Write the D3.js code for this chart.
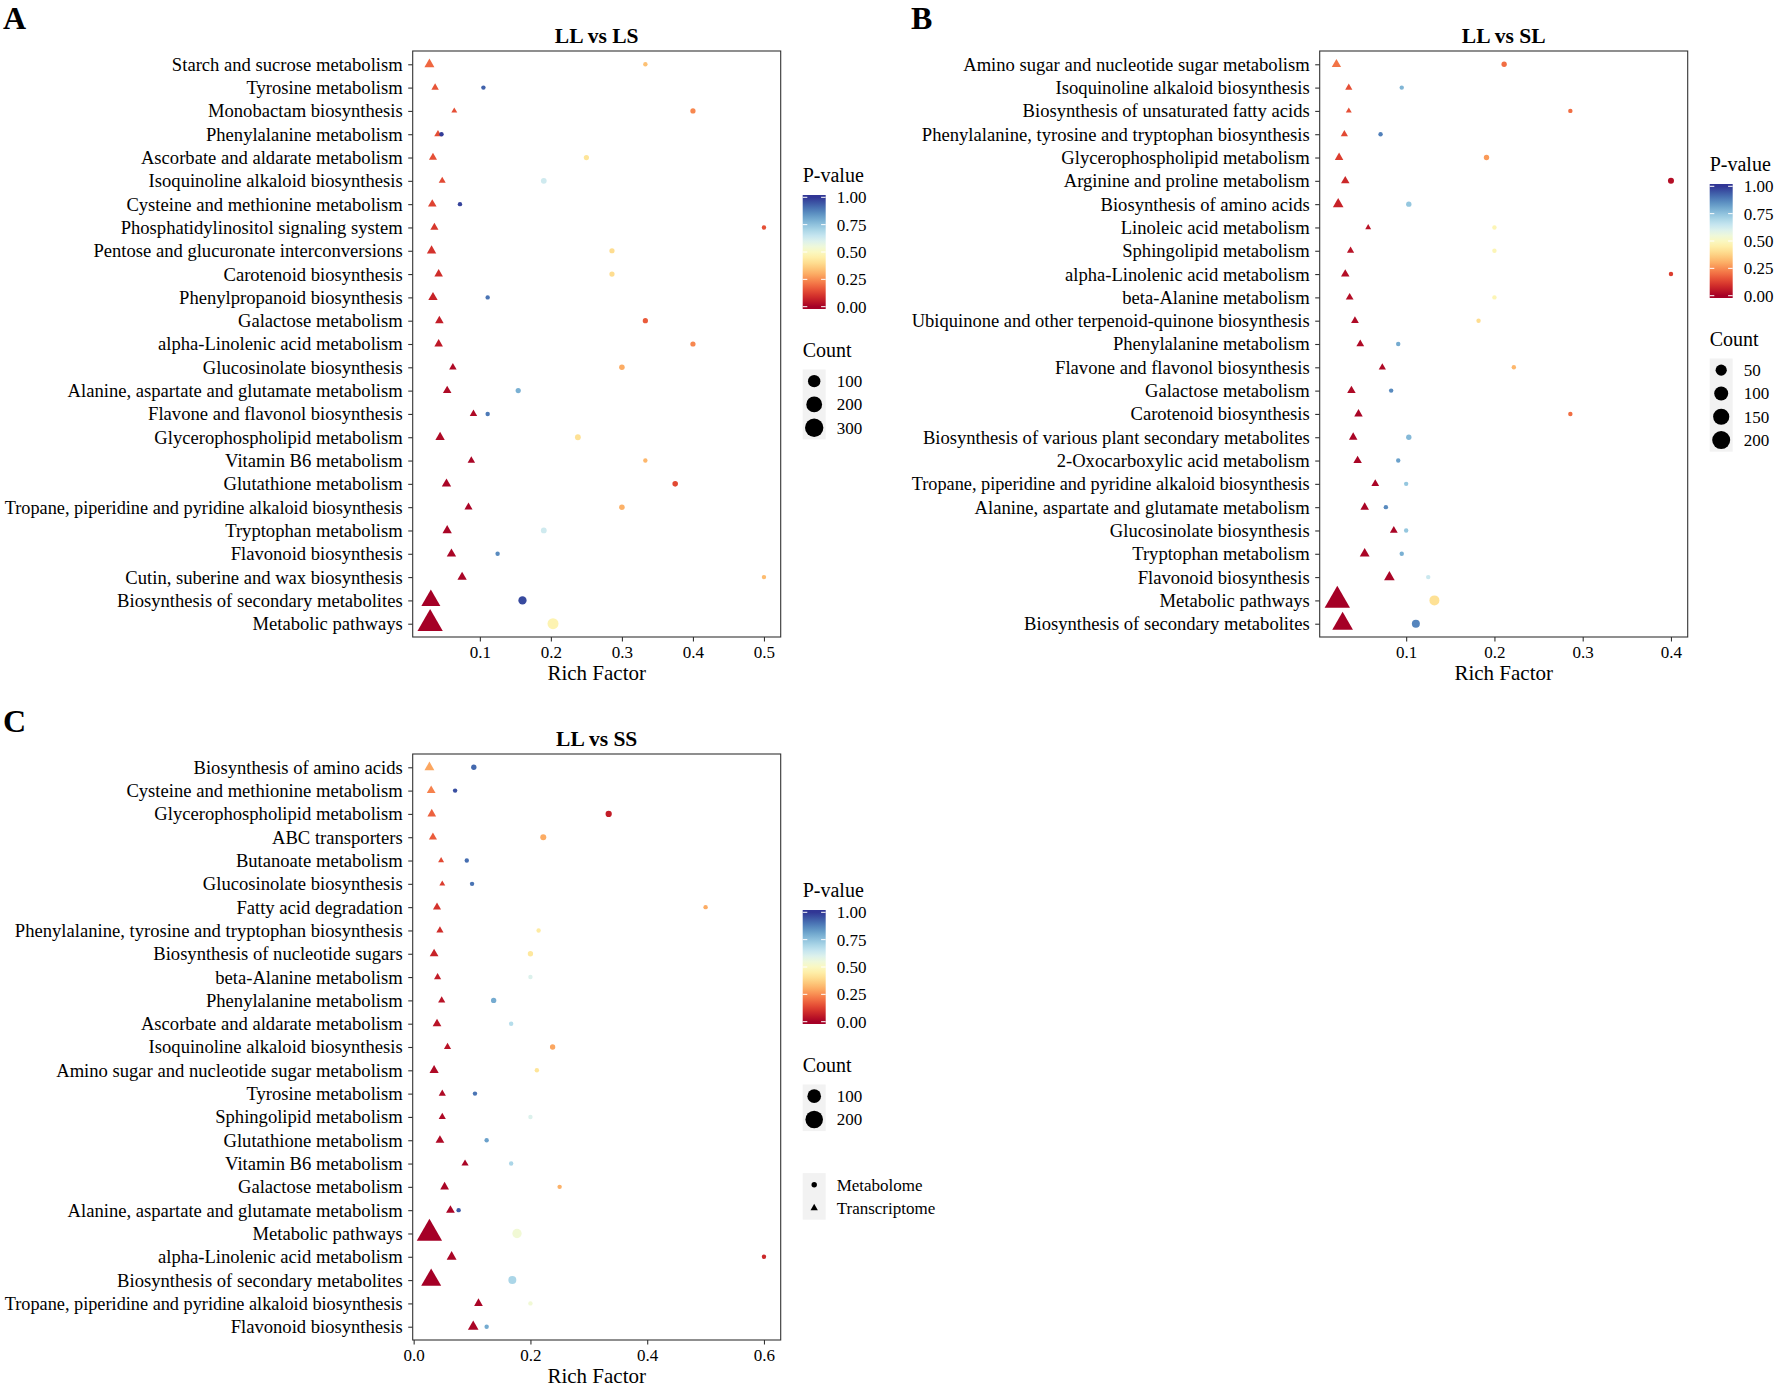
<!DOCTYPE html>
<html>
<head>
<meta charset="utf-8">
<script src="https://cdn.jsdelivr.net/npm/d3@7"></script>
<style>
  body { margin: 0; background: #fff; }
</style>
</head>
<body>
<script>
// Panel A: LL vs LS (rows listed top to bottom)
let pathwaysA = ["Starch and sucrose metabolism", "Tyrosine metabolism", "Monobactam biosynthesis",
  "Phenylalanine metabolism", "Ascorbate and aldarate metabolism", "Isoquinoline alkaloid biosynthesis",
  "Cysteine and methionine metabolism", "Phosphatidylinositol signaling system",
  "Pentose and glucuronate interconversions", "Carotenoid biosynthesis", "Phenylpropanoid biosynthesis",
  "Galactose metabolism", "alpha-Linolenic acid metabolism", "Glucosinolate biosynthesis",
  "Alanine, aspartate and glutamate metabolism", "Flavone and flavonol biosynthesis",
  "Glycerophospholipid metabolism", "Vitamin B6 metabolism", "Glutathione metabolism",
  "Tropane, piperidine and pyridine alkaloid biosynthesis", "Tryptophan metabolism",
  "Flavonoid biosynthesis", "Cutin, suberine and wax biosynthesis",
  "Biosynthesis of secondary metabolites", "Metabolic pathways"];
let richTransA = [0.029, 0.037, 0.064, 0.041, 0.034, 0.047, 0.033, 0.036, 0.032, 0.042, 0.034, 0.043, 0.042,
  0.062, 0.054, 0.091, 0.044, 0.088, 0.053, 0.084, 0.054, 0.060, 0.075, 0.031, 0.030];
let richMetaA = [0.333, 0.105, 0.400, 0.046, 0.250, 0.190, 0.072, 0.500, 0.286, 0.286, 0.111, 0.333, 0.400,
  0.300, 0.154, 0.111, 0.238, 0.333, 0.375, 0.300, 0.190, 0.125, 0.500, 0.160, 0.203];
let pTransA = [0.19, 0.16, 0.15, 0.15, 0.15, 0.14, 0.13, 0.11, 0.10, 0.09, 0.07, 0.06, 0.05,
  0.02, 0.02, 0.02, 0.02, 0.01, 0.01, 0.01, 0.01, 0.01, 0.01, 0.00, 0.00];
let pMetaA = [0.34, 0.93, 0.24, 0.99, 0.42, 0.63, 0.98, 0.15, 0.40, 0.40, 0.90, 0.17, 0.24,
  0.30, 0.79, 0.89, 0.41, 0.32, 0.14, 0.31, 0.63, 0.86, 0.33, 0.97, 0.47];
let countTransA = [15, 3, 1, 3, 5, 2, 7, 5, 11, 7, 11, 7, 7, 3, 7, 3, 11, 3, 11, 5, 11, 11, 11, 146, 320];
let countMetaA = [1, 1, 2, 1, 2, 4, 1, 1, 2, 2, 1, 2, 2, 3, 2, 1, 4, 1, 3, 3, 4, 1, 1, 24, 68];
let ticksA = [0.1, 0.2, 0.3, 0.4, 0.5];
let countBreaksA = [100, 200, 300];

// Panel B: LL vs SL
let pathwaysB = ["Amino sugar and nucleotide sugar metabolism", "Isoquinoline alkaloid biosynthesis",
  "Biosynthesis of unsaturated fatty acids", "Phenylalanine, tyrosine and tryptophan biosynthesis",
  "Glycerophospholipid metabolism", "Arginine and proline metabolism", "Biosynthesis of amino acids",
  "Linoleic acid metabolism", "Sphingolipid metabolism", "alpha-Linolenic acid metabolism",
  "beta-Alanine metabolism", "Ubiquinone and other terpenoid-quinone biosynthesis",
  "Phenylalanine metabolism", "Flavone and flavonol biosynthesis", "Galactose metabolism",
  "Carotenoid biosynthesis", "Biosynthesis of various plant secondary metabolites",
  "2-Oxocarboxylic acid metabolism", "Tropane, piperidine and pyridine alkaloid biosynthesis",
  "Alanine, aspartate and glutamate metabolism", "Glucosinolate biosynthesis", "Tryptophan metabolism",
  "Flavonoid biosynthesis", "Metabolic pathways", "Biosynthesis of secondary metabolites"];
let richTransB = [0.021, 0.035, 0.035, 0.030, 0.024, 0.031, 0.023, 0.057, 0.037, 0.031, 0.036, 0.042, 0.048,
  0.073, 0.038, 0.046, 0.040, 0.045, 0.065, 0.053, 0.086, 0.053, 0.081, 0.022, 0.028];
let richMetaB = [0.211, 0.095, 0.286, 0.071, 0.191, 0.400, 0.103, 0.200, 0.200, 0.400, 0.200, 0.182, 0.091,
  0.222, 0.083, 0.286, 0.103, 0.091, 0.100, 0.077, 0.100, 0.095, 0.125, 0.132, 0.111];
let pTransB = [0.21, 0.15, 0.15, 0.14, 0.12, 0.08, 0.07, 0.04, 0.04, 0.03, 0.03, 0.02, 0.02,
  0.02, 0.02, 0.01, 0.01, 0.01, 0.01, 0.01, 0.01, 0.01, 0.01, 0.00, 0.00];
let pMetaB = [0.20, 0.78, 0.20, 0.88, 0.27, 0.03, 0.74, 0.48, 0.48, 0.12, 0.48, 0.40, 0.80,
  0.32, 0.86, 0.20, 0.77, 0.82, 0.74, 0.86, 0.74, 0.79, 0.64, 0.41, 0.87];
let countTransB = [8, 2, 1, 2, 5, 5, 14, 1, 2, 5, 3, 3, 3, 2, 5, 5, 5, 5, 3, 5, 3, 10, 14, 224, 130];
let countMetaB = [2, 1, 1, 1, 2, 4, 2, 1, 1, 1, 1, 1, 1, 1, 1, 1, 2, 1, 1, 1, 1, 1, 1, 35, 15];
let ticksB = [0.1, 0.2, 0.3, 0.4];
let countBreaksB = [50, 100, 150, 200];

// Panel C: LL vs SS
let pathwaysC = ["Biosynthesis of amino acids", "Cysteine and methionine metabolism",
  "Glycerophospholipid metabolism", "ABC transporters", "Butanoate metabolism", "Glucosinolate biosynthesis",
  "Fatty acid degradation", "Phenylalanine, tyrosine and tryptophan biosynthesis",
  "Biosynthesis of nucleotide sugars", "beta-Alanine metabolism", "Phenylalanine metabolism",
  "Ascorbate and aldarate metabolism", "Isoquinoline alkaloid biosynthesis",
  "Amino sugar and nucleotide sugar metabolism", "Tyrosine metabolism", "Sphingolipid metabolism",
  "Glutathione metabolism", "Vitamin B6 metabolism", "Galactose metabolism",
  "Alanine, aspartate and glutamate metabolism", "Metabolic pathways", "alpha-Linolenic acid metabolism",
  "Biosynthesis of secondary metabolites", "Tropane, piperidine and pyridine alkaloid biosynthesis",
  "Flavonoid biosynthesis"];
let richTransC = [0.027, 0.030, 0.031, 0.033, 0.047, 0.049, 0.040, 0.045, 0.035, 0.041, 0.048, 0.040, 0.058,
  0.035, 0.049, 0.049, 0.045, 0.088, 0.053, 0.063, 0.027, 0.065, 0.030, 0.111, 0.102];
let richMetaC = [0.103, 0.071, 0.334, 0.222, 0.091, 0.100, 0.500, 0.214, 0.200, 0.200, 0.137, 0.167, 0.238,
  0.211, 0.105, 0.200, 0.125, 0.167, 0.250, 0.077, 0.177, 0.600, 0.169, 0.200, 0.125];
let pTransC = [0.29, 0.23, 0.18, 0.17, 0.14, 0.12, 0.10, 0.09, 0.07, 0.06, 0.04, 0.04, 0.04,
  0.02, 0.02, 0.02, 0.02, 0.01, 0.01, 0.01, 0.00, 0.01, 0.00, 0.01, 0.01];
let pMetaC = [0.92, 0.96, 0.06, 0.30, 0.91, 0.90, 0.30, 0.44, 0.43, 0.60, 0.80, 0.68, 0.29,
  0.42, 0.90, 0.60, 0.82, 0.70, 0.31, 0.94, 0.54, 0.08, 0.70, 0.54, 0.80];
let countTransC = [11, 6, 6, 4, 1, 1, 4, 2, 6, 2, 2, 6, 2, 8, 2, 2, 6, 2, 6, 6, 240, 11, 127, 6, 15];
let countMetaC = [2, 1, 5, 4, 1, 1, 1, 1, 2, 1, 2, 1, 2, 1, 1, 1, 1, 1, 1, 1, 29, 1, 16, 1, 1];
let ticksC = [0.0, 0.2, 0.4, 0.6];
let countBreaksC = [100, 200];

let pBreaks = [0, 0.25, 0.5, 0.75, 1];
let shapeLabels = ["Metabolome", "Transcriptome"];

// Stage
let width = 1778;
let height = 1390;
let serif = '"Liberation Serif", "Times New Roman", Times, serif';
let line_color = "#333333";
let key_color = "#f2f2f2";

let svg = d3.select("body")
            .append("svg")
            .attr("width", width)
            .attr("height", height)
            .attr("font-family", serif);

svg.append("rect").attr("width", width).attr("height", height).attr("fill", "#fff");

let plotW = 368;
let plotH = 586;
let maxLabelW = 398;

function drawPanel(cfg) {
    let g = svg.append("g");

    // scales, with ggplot-like 5% expansion on x
    let lo = d3.min(cfg.richT.concat(cfg.richM));
    let hi = d3.max(cfg.richT.concat(cfg.richM));
    let pad = (hi - lo) * 0.05;
    let x = d3.scaleLinear().domain([lo - pad, hi + pad]).range([cfg.left, cfg.left + plotW]);
    let y = d3.scalePoint().domain(cfg.pathways).range([cfg.top, cfg.top + plotH]).padding(0.57);

    let counts = cfg.countT.concat(cfg.countM);
    let cMin = d3.min(counts);
    let cMax = d3.max(counts);
    let rScale = d3.scaleSqrt().domain([0, cMax - cMin]).range([2.2, 9.4]);
    let radius = v => rScale(Math.max(0, v - cMin));

    let color = p => d3.interpolateRdYlBu(Math.max(0, Math.min(1, p)));

    // points: triangles (transcriptome) first, circles (metabolome) over them
    let tri = cfg.pathways.map((d, i) => ({path: d, rich: cfg.richT[i], p: cfg.pT[i], n: cfg.countT[i]}));
    let cir = cfg.pathways.map((d, i) => ({path: d, rich: cfg.richM[i], p: cfg.pM[i], n: cfg.countM[i]}));

    g.selectAll("path.tri")
        .data(tri)
        .enter().append("path")
        .attr("class", "tri")
        .attr("d", d => d3.symbol().type(d3.symbolTriangle).size(Math.PI * radius(d.n) ** 2)())
        .attr("transform", d => "translate(" + x(d.rich) + "," + y(d.path) + ")")
        .attr("fill", d => color(d.p));

    g.selectAll("circle.met")
        .data(cir)
        .enter().append("circle")
        .attr("class", "met")
        .attr("cx", d => x(d.rich))
        .attr("cy", d => y(d.path))
        .attr("r", d => radius(d.n))
        .attr("fill", d => color(d.p));

    // panel border
    g.append("rect")
        .attr("x", cfg.left).attr("y", cfg.top)
        .attr("width", plotW).attr("height", plotH)
        .attr("fill", "none").attr("stroke", line_color).attr("stroke-width", 1.1);

    // axes
    let yAxis = g.append("g")
        .attr("transform", "translate(" + cfg.left + ",0)")
        .call(d3.axisLeft(y).tickSize(4.5).tickPadding(5.5));
    yAxis.select(".domain").remove();
    yAxis.attr("font-family", serif).attr("font-size", 18.6);
    yAxis.selectAll("line").attr("stroke", line_color).attr("stroke-width", 1.1);
    yAxis.selectAll("text").attr("fill", "#000");
    // squeeze the longest labels so they stay inside the picture
    yAxis.selectAll("text").each(function() {
        if (this.getComputedTextLength() > maxLabelW) {
            d3.select(this).attr("textLength", maxLabelW).attr("lengthAdjust", "spacingAndGlyphs");
        }
    });

    let xAxis = g.append("g")
        .attr("transform", "translate(0," + (cfg.top + plotH) + ")")
        .call(d3.axisBottom(x).tickValues(cfg.ticks).tickFormat(d3.format(".1f")).tickSize(4.5).tickPadding(4.5));
    xAxis.select(".domain").remove();
    xAxis.attr("font-family", serif).attr("font-size", 17);
    xAxis.selectAll("line").attr("stroke", line_color).attr("stroke-width", 1.1);
    xAxis.selectAll("text").attr("fill", "#000");

    // titles
    g.append("text")
        .attr("x", cfg.left + plotW / 2).attr("y", cfg.top - 7.7)
        .attr("text-anchor", "middle").attr("font-weight", "bold").attr("font-size", 21.5)
        .text(cfg.title);
    g.append("text")
        .attr("x", cfg.left + plotW / 2).attr("y", cfg.top + plotH + 43)
        .attr("text-anchor", "middle").attr("font-size", 21)
        .text("Rich Factor");
    g.append("text")
        .attr("x", cfg.letterX).attr("y", cfg.top - 22)
        .attr("font-weight", "bold").attr("font-size", 32)
        .text(cfg.letter);

    // colour legend
    let lx = cfg.left + plotW + 22;
    let lg = g.append("g");
    let barTop = cfg.legendTop + 13;
    let barH = 114;
    let barW = 23;
    let py = d3.scaleLinear().domain([0, 1]).range([barTop + barH - 2.3, barTop + 2.3]);

    lg.append("text").attr("x", lx).attr("y", cfg.legendTop)
        .attr("font-size", 20).text("P-value");

    let gradId = "grad" + cfg.letter;
    let grad = svg.append("defs").append("linearGradient")
        .attr("id", gradId)
        .attr("gradientUnits", "userSpaceOnUse")
        .attr("x1", 0).attr("x2", 0)
        .attr("y1", py(0)).attr("y2", py(1));
    d3.range(0, 1.0001, 0.05).forEach(t => {
        grad.append("stop").attr("offset", t).attr("stop-color", d3.interpolateRdYlBu(t));
    });
    lg.append("rect")
        .attr("x", lx).attr("y", barTop).attr("width", barW).attr("height", barH)
        .attr("fill", "url(#" + gradId + ")");

    pBreaks.forEach(b => {
        lg.append("line").attr("x1", lx).attr("x2", lx + barW / 5)
            .attr("y1", py(b)).attr("y2", py(b)).attr("stroke", "#fff").attr("stroke-width", 1);
        lg.append("line").attr("x1", lx + barW - barW / 5).attr("x2", lx + barW)
            .attr("y1", py(b)).attr("y2", py(b)).attr("stroke", "#fff").attr("stroke-width", 1);
        lg.append("text").attr("x", lx + 34).attr("y", py(b)).attr("dy", "0.35em")
            .attr("font-size", 17).text(d3.format(".2f")(b));
    });

    // count legend
    let countTitleY = barTop + barH + 48;
    lg.append("text").attr("x", lx).attr("y", countTitleY)
        .attr("font-size", 20).text("Count");
    let keyTop = countTitleY + 12.5;
    let keyH = 23.3;
    lg.append("rect").attr("x", lx).attr("y", keyTop)
        .attr("width", barW).attr("height", keyH * cfg.countBreaks.length).attr("fill", key_color);
    cfg.countBreaks.forEach((b, i) => {
        let cy = keyTop + keyH * (i + 0.5);
        lg.append("circle").attr("cx", lx + barW / 2).attr("cy", cy).attr("r", radius(b)).attr("fill", "#000");
        lg.append("text").attr("x", lx + 34).attr("y", cy).attr("dy", "0.35em")
            .attr("font-size", 17).text(b);
    });

    // shape legend (panel C only)
    if (cfg.shapeLegend) {
        let sTop = keyTop + keyH * cfg.countBreaks.length + 42;
        lg.append("rect").attr("x", lx).attr("y", sTop)
            .attr("width", barW).attr("height", keyH * 2).attr("fill", key_color);
        shapeLabels.forEach((s, i) => {
            let cy = sTop + keyH * (i + 0.5);
            let type = i === 0 ? d3.symbolCircle : d3.symbolTriangle;
            lg.append("path")
                .attr("d", d3.symbol().type(type).size(Math.PI * 2.7 * 2.7)())
                .attr("transform", "translate(" + (lx + barW / 2) + "," + cy + ")")
                .attr("fill", "#000");
            lg.append("text").attr("x", lx + 34).attr("y", cy).attr("dy", "0.35em")
                .attr("font-size", 17).text(s);
        });
    }
}

drawPanel({letter: "A", letterX: 3, title: "LL vs LS", left: 412.7, top: 51, legendTop: 182,
    pathways: pathwaysA, richT: richTransA, richM: richMetaA, pT: pTransA, pM: pMetaA,
    countT: countTransA, countM: countMetaA, ticks: ticksA, countBreaks: countBreaksA});

drawPanel({letter: "B", letterX: 911, title: "LL vs SL", left: 1319.7, top: 51, legendTop: 171,
    pathways: pathwaysB, richT: richTransB, richM: richMetaB, pT: pTransB, pM: pMetaB,
    countT: countTransB, countM: countMetaB, ticks: ticksB, countBreaks: countBreaksB});

drawPanel({letter: "C", letterX: 3, title: "LL vs SS", left: 412.7, top: 754, legendTop: 897,
    pathways: pathwaysC, richT: richTransC, richM: richMetaC, pT: pTransC, pM: pMetaC,
    countT: countTransC, countM: countMetaC, ticks: ticksC, countBreaks: countBreaksC, shapeLegend: true});
</script>
</body>
</html>
